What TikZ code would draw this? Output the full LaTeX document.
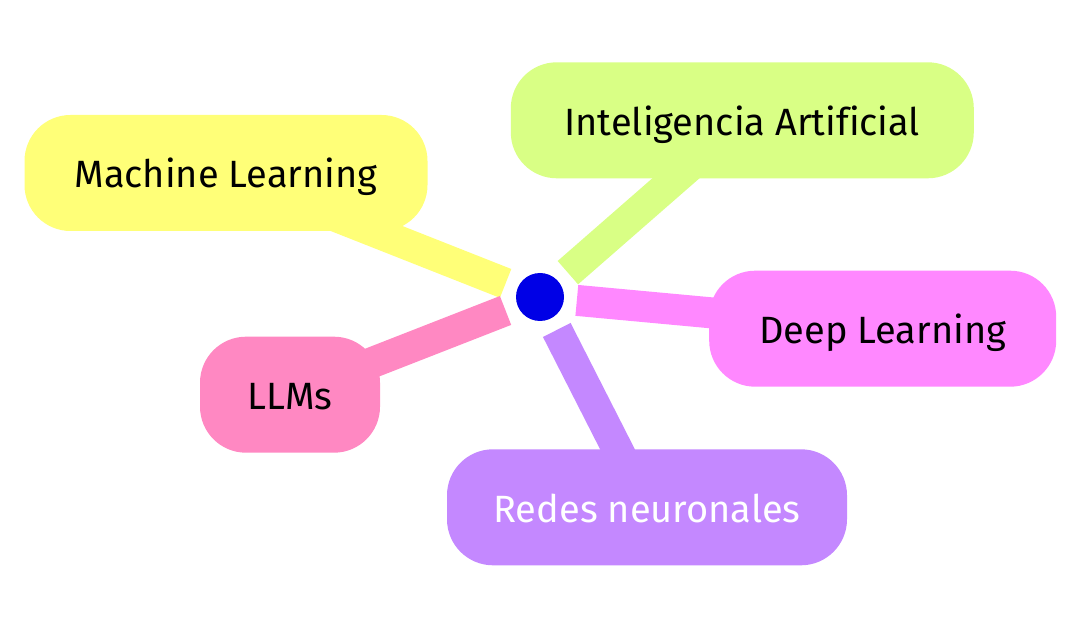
\documentclass[tikz,border=0pt]{standalone}
\usepackage{fontspec}
\setmainfont[Ligatures={NoCommon}]{Fira Sans}
\usetikzlibrary{backgrounds}
\pgfdeclarelayer{paper}
\pgfsetlayers{paper,background,main}
\definecolor{cYellow}{HTML}{FFFF78}
\definecolor{cGreen}{HTML}{D9FF85}
\definecolor{cMagenta}{HTML}{FF88FF}
\definecolor{cPink}{HTML}{FF88C2}
\definecolor{cPurple}{HTML}{C488FF}
\definecolor{rootBlue}{HTML}{0000E6}
\begin{document}
\begin{tikzpicture}[x=1pt,y=-1pt,
  topic/.style={rectangle, rounded corners=46pt, minimum height=116pt, inner sep=0pt,
    font=\fontsize{38}{44}\selectfont, text=black, text depth=0pt, text height=30pt},
  edge/.style={line width=31pt, shorten <=37pt}]
\begin{pgfonlayer}{paper}
\fill[white] (0,0) rectangle (1080,628);
\end{pgfonlayer}
\useasboundingbox (0,0) rectangle (1080,628);
\node[circle, fill=rootBlue, minimum size=48pt, inner sep=0pt] (root) at (540,297) {};
\node[topic, fill=cGreen, minimum width=463pt] (ia) at (742.3,120.3) {Inteligencia Artificial};
\node[topic, fill=cYellow, minimum width=403pt] (ml) at (226,173) {Machine Learning};
\node[topic, fill=cMagenta, minimum width=347pt] (dl) at (882.7,328.7) {Deep Learning};
\node[topic, fill=cPink, minimum width=180pt] (llm) at (290,394.7) {LLMs};
\node[topic, fill=cPurple, minimum width=400pt, text=white] (rn) at (647,507.3) {Redes neuronales};
\begin{scope}[on background layer]
\draw[edge, cGreen] (root.center) -- (ia.center);
\draw[edge, cYellow] (root.center) -- (ml.center);
\draw[edge, cMagenta] (root.center) -- (dl.center);
\draw[edge, cPink] (root.center) -- (llm.center);
\draw[edge, cPurple] (root.center) -- (rn.center);
\end{scope}
\end{tikzpicture}
\end{document}
